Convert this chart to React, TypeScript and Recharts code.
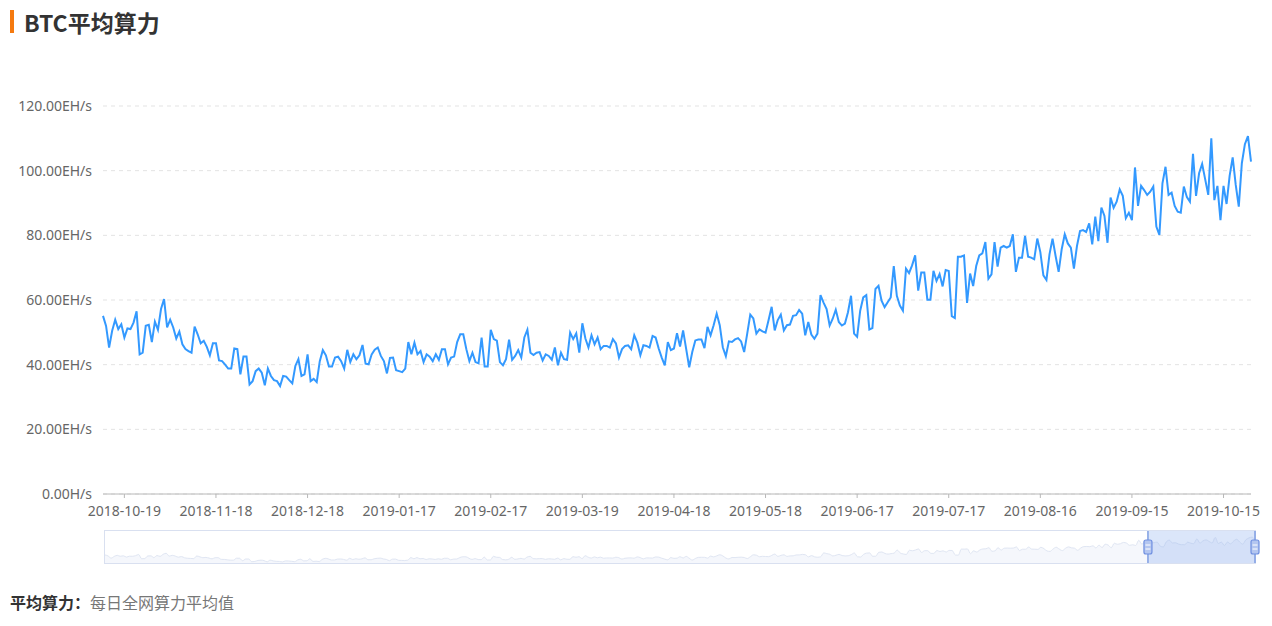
import React from 'react';
import {
  LineChart,
  Line,
  AreaChart,
  Area,
  XAxis,
  YAxis,
  CartesianGrid,
  ReferenceArea,
  ReferenceLine
} from 'recharts';

// daily average BTC hashrate, EH/s, one array per month
const hashOct2018 = [55.1, 52, 45.3, 50.5, 53.9, 51, 52.5, 48.4, 51.2, 51, 53, 56.5, 43.2, 43.7, 52, 52.3, 47, 53.3, 50.8, 57.2];
const hashNov2018 = [60.3, 51.5, 53.9, 51.5, 48.1, 50.2, 46.3, 44.8, 44.2, 43.7, 51.8, 49.4, 46.6, 47.4, 45.5, 42.9, 46.6, 46.6, 41.3, 41.1, 40, 38.8, 38.8, 45, 44.8, 37, 42.5, 42.5, 33.9, 34.9];
const hashDec2018 = [38, 38.8, 37.5, 33.6, 38.8, 36.5, 35.2, 34.9, 33.4, 36.5, 36.3, 35.2, 34.2, 39.6, 41.7, 36.5, 37, 43.2, 34.9, 35.6, 34.6, 41.1, 44.5, 42.9, 39.4, 39.4, 42.2, 42.5, 41.1, 38.8, 44.6];
const hashJan2019 = [40.8, 43.2, 41.7, 42.9, 46.1, 40.3, 40.1, 43.2, 44.6, 45.3, 42.7, 41.1, 37.3, 42.1, 42.2, 38.3, 38, 37.7, 38.8, 47, 43.2, 46.8, 43.2, 44.2, 40.8, 43.2, 42.5, 41.1, 43.2, 41.5, 44.8];
const hashFeb2019 = [44.8, 40.1, 42.2, 42.5, 47, 49.4, 49.4, 44.8, 41.1, 43.7, 40.8, 40.4, 48.4, 39.4, 39.4, 50.8, 47.9, 47.4, 40.8, 39.8, 41.7, 47.7, 41.5, 42.7, 44.5, 42.2, 48.4];
const hashMar2019 = [50.8, 43.7, 43, 43.7, 43.9, 41.3, 43.2, 42.7, 41.5, 45.3, 39.8, 43.7, 41.7, 41.5, 49.9, 47.9, 49.7, 43.7, 52.8, 48.1, 45.3, 49.1, 46.3, 48.4, 44.8, 45.8, 45.8, 45.3, 47.9, 46.6, 42.2];
const hashApr2019 = [44.8, 45.8, 46, 44.8, 49.1, 46.8, 42.9, 46, 45.8, 45.3, 48.9, 48.4, 45, 42.2, 39.8, 47, 44.5, 45, 49.7, 45.6, 50.6, 44.9, 39.2, 43.9, 47.5, 47.8, 47.8, 45.1, 51.7, 49.1];
const hashMay2019 = [52.2, 55.8, 52.2, 45.4, 42.6, 47.2, 47, 47.8, 48.2, 47.2, 43.9, 49.6, 55.5, 54.3, 49.6, 50.9, 50.3, 49.9, 53.8, 57.9, 50.6, 53.8, 55.5, 50.6, 52.2, 52.4, 55.1, 55.3, 56.9, 55.8, 49.1];
const hashJun2019 = [53.2, 49.3, 48, 49.6, 61.5, 59.2, 57.2, 52.1, 54.2, 57, 53.2, 52.1, 52.7, 56.2, 61.3, 49.6, 48.6, 56.7, 60.8, 61.5, 50.9, 51.3, 63.4, 64.4, 59.8, 57.8, 59.3, 60.8, 70.5, 61.3];
const hashJul2019 = [58.3, 56.7, 69.7, 68.3, 70.7, 73.8, 62.9, 68.5, 68.5, 60.1, 60.1, 69, 65.9, 68, 64.2, 69.3, 69, 55, 54.4, 73.4, 73.4, 73.8, 59.1, 68.2, 64.3, 70.5, 73.8, 74.4, 77.9, 66.6, 67.9];
const hashAug2019 = [77.9, 70.3, 76.2, 76.7, 76.2, 76.7, 80.3, 68.7, 73.1, 73.1, 79.8, 73.4, 73.1, 72.6, 79, 74.8, 67.6, 66.2, 74.1, 79, 73.6, 68.7, 75.7, 80.3, 77.5, 76.2, 69.7, 76.7, 81.3, 81.6, 81];
const hashSep2019 = [83.7, 77.2, 85.8, 78.2, 88.6, 86, 77.7, 91.7, 88.5, 90.4, 94.2, 92.2, 85.3, 87, 84.7, 101, 89.1, 95.3, 94, 92.5, 93.5, 95.1, 82.7, 80.1, 96.1, 101.2, 92.5, 93.2, 89.1, 87.3];
const hashOct2019 = [87, 95.1, 91.8, 90.4, 105.2, 92.2, 99.2, 102.1, 97.3, 92.5, 110, 90.9, 95.3, 84.7, 95.3, 89.7, 98.4, 104.1, 95.6, 88.9, 102.3, 108.2, 110.7, 102.8];

const firstDay = '2018-10-12';
const missingDays = ['2019-02-05'];
const tickLabels = ['2018-10-19', '2018-11-18', '2018-12-18', '2019-01-17', '2019-02-17', '2019-03-19', '2019-04-18', '2019-05-18', '2019-06-17', '2019-07-17', '2019-08-16', '2019-09-15', '2019-10-15'];
const yTicks = [0, 20, 40, 60, 80, 100, 120];

const hashValues = [
  ...hashOct2018, ...hashNov2018, ...hashDec2018, ...hashJan2019, ...hashFeb2019, ...hashMar2019,
  ...hashApr2019, ...hashMay2019, ...hashJun2019, ...hashJul2019, ...hashAug2019, ...hashSep2019, ...hashOct2019
];

const dates: string[] = [];
const cursor = new Date(firstDay + 'T00:00:00Z');
while (dates.length < hashValues.length) {
  const s = cursor.toISOString().slice(0, 10);
  if (!missingDays.includes(s)) dates.push(s);
  cursor.setUTCDate(cursor.getUTCDate() + 1);
}
const data = dates.map((date, i) => ({ date, hash: hashValues[i] }));

// zoom window shown in the slider
const zoomStart = dates[341];
const zoomEnd = dates[dates.length - 1];

const fmtY = (v: number) => (v === 0 ? '0.00H/s' : `${v.toFixed(2)}EH/s`);

const Handle = (props: any) => {
  const vb = props.viewBox || {};
  const cx = vb.x;
  const cy = vb.y + vb.height / 2;
  return (
    <g>
      <rect x={cx - 4} y={cy - 7} width={8} height={14} rx={2} fill="#b4c6f0" stroke="#6f8fe0" strokeWidth={1.2} />
      <line x1={cx - 2.5} x2={cx + 2.5} y1={cy - 2} y2={cy - 2} stroke="#fff" />
      <line x1={cx - 2.5} x2={cx + 2.5} y1={cy + 2} y2={cy + 2} stroke="#fff" />
    </g>
  );
};

const App = () => {
  return (
    <div style={{ position: 'absolute', left: 0, top: 0, width: 1272, height: 626, background: '#fff', fontFamily: '"Noto Sans CJK SC", "Noto Sans", sans-serif' }}>
      <div style={{ position: 'absolute', left: 10, top: 10, width: 4, height: 23, background: '#f57a10' }} />
      <div style={{ position: 'absolute', left: 24, top: 9, height: 26, lineHeight: '26px', fontSize: 23, fontWeight: 700, color: '#333' }}>
        BTC平均算力
      </div>

      <div style={{ position: 'absolute', left: 0, top: 0 }}>
        <LineChart width={1272} height={540} data={data} margin={{ top: 106, right: 21, bottom: 16, left: 0 }}>
          <CartesianGrid vertical={false} stroke="#e3e3e3" strokeDasharray="4 4" />
          <XAxis
            dataKey="date"
            ticks={tickLabels}
            interval={0}
            height={30}
            axisLine={{ stroke: '#b8b8b8' }}
            tickLine={{ stroke: '#b8b8b8' }}
            tickSize={4}
            tickMargin={8}
            tick={{ fill: '#666', fontSize: 14, fontFamily: '"Noto Sans", sans-serif' }}
          />
          <YAxis
            domain={[0, 120]}
            ticks={yTicks}
            width={103}
            axisLine={false}
            tickLine={false}
            tickMargin={5}
            tickFormatter={fmtY}
            tick={{ fill: '#666', fontSize: 14, fontFamily: '"Noto Sans", sans-serif' }}
          />
          <Line type="linear" dataKey="hash" stroke="#3399ff" strokeWidth={2} dot={false} isAnimationActive={false} />
        </LineChart>
      </div>

      <div style={{ position: 'absolute', left: 104, top: 530, width: 1150, height: 32, border: '1px solid #d9e0f0' }} />
      <div style={{ position: 'absolute', left: 100, top: 531, width: 1160, height: 32 }}>
        <AreaChart width={1160} height={32} data={data} margin={{ top: 0, right: 5, bottom: 0, left: 5 }}>
          <XAxis dataKey="date" hide />
          <YAxis domain={[30, 130]} hide />
          <Area type="monotone" dataKey="hash" stroke="#e0e6f3" strokeWidth={1} fill="#f5f7fc" fillOpacity={1} dot={false} isAnimationActive={false} />
          <ReferenceArea x1={zoomStart} x2={zoomEnd} fill="#8fb0f0" fillOpacity={0.32} stroke="none" />
          <ReferenceLine x={zoomStart} stroke="#7f9ee3" strokeWidth={1.5} label={<Handle />} />
          <ReferenceLine x={zoomEnd} stroke="#7f9ee3" strokeWidth={1.5} label={<Handle />} />
        </AreaChart>
      </div>

      <div style={{ position: 'absolute', left: 10, top: 591, fontSize: 16, lineHeight: '22px', whiteSpace: 'nowrap' }}>
        <span style={{ fontWeight: 700, color: '#333' }}>平均算力：</span>
        <span style={{ color: '#777' }}>每日全网算力平均值</span>
      </div>
    </div>
  );
};

export default App;
